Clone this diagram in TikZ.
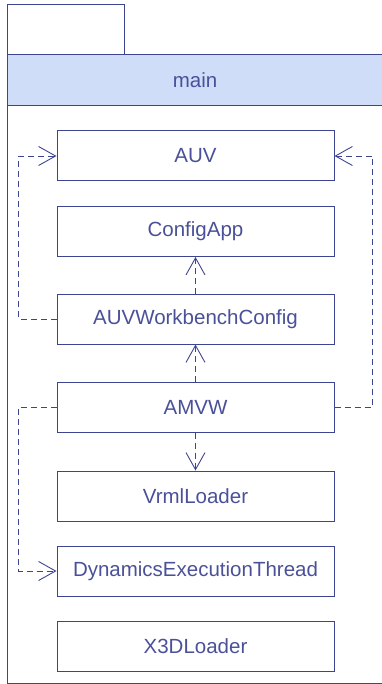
\documentclass[tikz,border=0pt]{standalone}
\usepackage{fontspec}
\setmainfont{Liberation Sans}
\usetikzlibrary{arrows.meta}
\definecolor{umlline}{RGB}{62,69,144}
\definecolor{umltext}{RGB}{75,81,153}
\definecolor{umlhead}{RGB}{207,221,249}
\tikzset{
	classbox/.style={draw=umlline, line width=1pt, fill=white, text=umltext,
		minimum width=277pt, minimum height=50pt,
		font=\fontsize{20.5}{24}\selectfont},
	dep/.style={draw=umlline, line width=0.9pt, dash pattern=on 6pt off 4pt,
		-{Straight Barb[length=17pt, width=19pt, line width=0.9pt]}}
}
\begin{document}
\begin{tikzpicture}[x=1pt, y=-1pt]
	\useasboundingbox (0,0) rectangle (381,684);
	
	% Define package frame
	\draw[umlline, line width=1pt] (7,5) rectangle (124,55);
	\fill[umlhead] (7,55) rectangle (382,106);
	\draw[umlline, line width=1pt] (382,55) -- (7,55) -- (7,683) -- (382,683);
	\draw[umlline, line width=1pt] (7,106) -- (382,106);
	\node[text=umltext, font=\fontsize{20.5}{24}\selectfont] (Main) at (195,80.5) {main};
	
	% Define classes
	\node[classbox] (AUV) at (195.5,156) {AUV};
	\node[classbox] (ConfigApp) at (195.5,231.5) {ConfigApp};
	\node[classbox] (AUVWorkbenchConfig) at (195.5,319) {AUVWorkbenchConfig};
	\node[classbox] (AMVW) at (195.5,407) {AMVW};
	\node[classbox] (VrmlLoader) at (195.5,496) {VrmlLoader};
	\node[classbox] (DynamicsExecutionThread) at (195.5,571) {DynamicsExecutionThread};
	\node[classbox] (X3DLoader) at (195.5,646) {X3DLoader};
	
	% Define dependencies
	\draw[dep] (AUVWorkbenchConfig.west) -- ++(-38,0) |- (AUV.west);
	\draw[dep] (AUVWorkbenchConfig.north) -- (ConfigApp.south);
	\draw[dep] (AMVW.north) -- (AUVWorkbenchConfig.south);
	\draw[dep] (AMVW.south) -- (VrmlLoader.north);
	\draw[dep] (AMVW.east) -- ++(38,0) |- (AUV.east);
	\draw[dep] (AMVW.west) -- ++(-38,0) |- (DynamicsExecutionThread.west);
\end{tikzpicture}
\end{document}
